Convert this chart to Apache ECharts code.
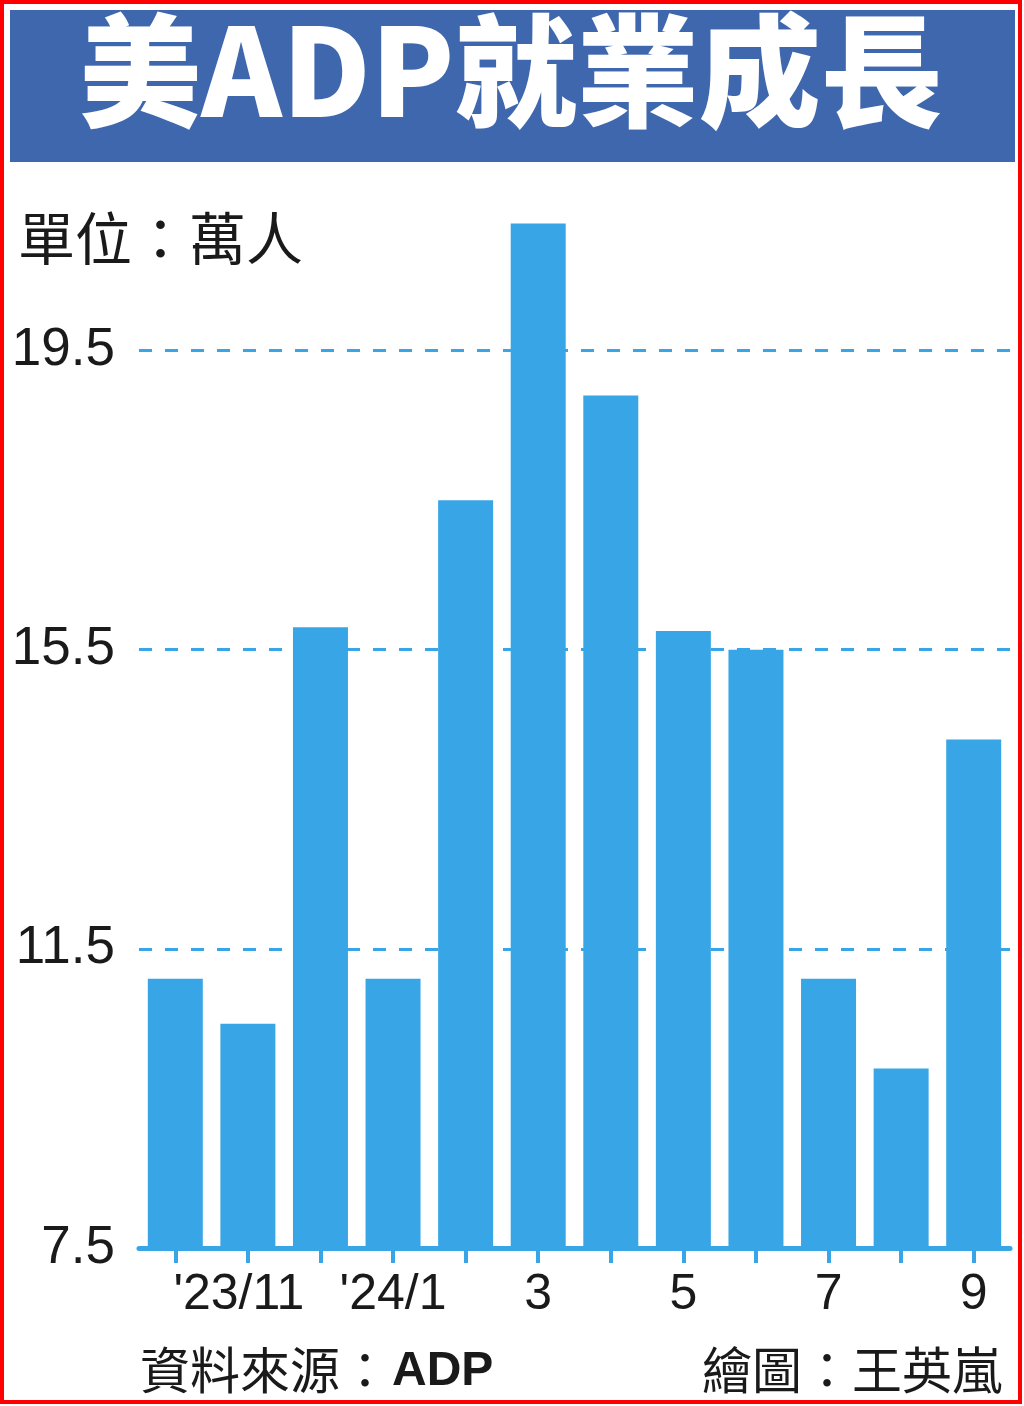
<!DOCTYPE html>
<html>
<head>
<meta charset="utf-8">
<script src="https://cdn.jsdelivr.net/npm/echarts@6/dist/echarts.min.js"></script>
<style>
  html,body{ margin:0; padding:0; background:#fff; }
  #chart{ width:1024px; height:1406px; }
</style>
</head>
<body>
<div id="chart"></div>
<script>
// ======== データ ========
const months = ["'23/10","'23/11","'23/12","'24/1",'2','3','4','5','6','7','8','9'];
const jobs = [11.1, 10.5, 15.8, 11.1, 17.5, 21.2, 18.9, 15.75, 15.5, 11.1, 9.9, 14.3];
const yTicks = { min:7.5, max:21.5, step:4 };

const BLUE = '#38A6E6';
const CJK = "'Noto Sans CJK TC', 'Noto Sans CJK JP', sans-serif";
const NUM = "'Liberation Sans', Arial, sans-serif";

const chart = echarts.init(document.getElementById('chart'));

chart.setOption({
  backgroundColor:'#fff',
  animation:false,
  grid:{ left:139, right:14, top:201, bottom:158 },
  xAxis:{
    type:'category', data:months,
    axisLine:{ show:true, lineStyle:{ color:BLUE, width:5 } },
    axisTick:{ show:true, interval:0, alignWithLabel:true, length:15, lineStyle:{ color:BLUE, width:4 } },
    axisLabel:{
      interval:(i)=> i % 2 === 1,
      margin:22, fontSize:50, color:'#1a1a1a', fontFamily:NUM,
      // '23/11 は少し左寄せ
      formatter:(v, i)=> i === 1 ? '{l|' + v + '}' : v,
      rich:{ l:{ fontSize:50, fontFamily:NUM, color:'#1a1a1a', padding:[0,18,0,0] } }
    }
  },
  yAxis:{
    type:'value', min:yTicks.min, max:yTicks.max, interval:yTicks.step,
    axisLine:{ show:false }, axisTick:{ show:false },
    axisLabel:{ showMaxLabel:false, margin:24, fontSize:53, color:'#1a1a1a', fontFamily:NUM,
      formatter:(v)=> v.toFixed(1) },
    splitLine:{ showMaxLine:false, showMinLine:false, lineStyle:{ color:BLUE, width:3, type:[13,13] } }
  },
  series:[{
    type:'bar', data:jobs, barWidth:55,
    itemStyle:{ color:BLUE }
  }],
  graphic:[
    // タイトル帯
    { type:'rect', shape:{ x:10, y:10, width:1005, height:152 }, style:{ fill:'#3F67AD' } },
    { type:'text', style:{ x:511, y:71, text:'美ADP就業成長', textAlign:'center', textVerticalAlign:'middle',
        font:'900 122px ' + CJK, fill:'#fff' } },
    // 単位
    { type:'text', style:{ x:18, y:238, text:'單位：萬人', textVerticalAlign:'middle',
        font:'400 57px ' + CJK, fill:'#1a1a1a' } },
    // 出典
    { type:'text', style:{ x:140, y:1370, text:'資料來源：', textVerticalAlign:'middle',
        font:'400 50px ' + CJK, fill:'#1a1a1a' } },
    { type:'text', style:{ x:392, y:1372, text:'ADP', textVerticalAlign:'middle',
        font:'bold 48px ' + NUM, fill:'#1a1a1a' } },
    { type:'text', style:{ x:1002, y:1370, text:'繪圖：王英嵐', textAlign:'right', textVerticalAlign:'middle',
        font:'400 50px ' + CJK, fill:'#1a1a1a' } },
    // 外枠
    { type:'rect', shape:{ x:2, y:2, width:1018, height:1400 }, style:{ fill:null, stroke:'#ff0000', lineWidth:4 } }
  ]
});
</script>
</body>
</html>
